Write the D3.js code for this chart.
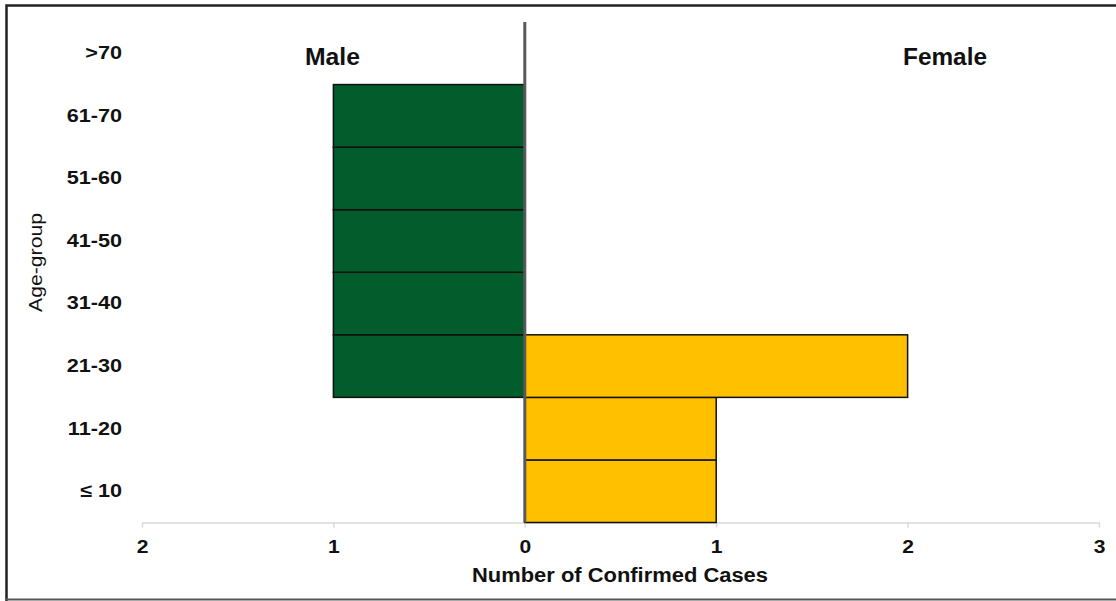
<!DOCTYPE html>
<html>
<head>
<meta charset="utf-8">
<script src="https://cdn.jsdelivr.net/npm/d3@7"></script>
<style>
  html, body { margin: 0; padding: 0; background: #fff; }
  svg { display: block; font-family: Arial, "Liberation Sans", sans-serif; }
</style>
</head>
<body>
<svg id="chart" width="1116" height="601"></svg>
<script>
// Age groups, bottom to top
const ageGroups = ["≤ 10", "11-20", "21-30", "31-40", "41-50", "51-60", "61-70", ">70"];
// Confirmed cases per age group
const maleCases   = [0, 0, 1, 1, 1, 1, 1, 0];
const femaleCases = [1, 1, 2, 0, 0, 0, 0, 0];
// Axis ticks (magnitudes shown on both sides of zero)
const xTicks = [-2, -1, 0, 1, 2, 3];

const svg = d3.select("#chart");
const W = 1116, H = 601;
const FONT = "Arial, 'Liberation Sans', sans-serif";
const WIDE = "scale(1.17,1)"; // slightly wide lettering

// Outer frame
svg.append("path")
  .attr("d", `M6.5,${H} L6.5,5.5 L${W},5.5`)
  .attr("fill", "none").attr("stroke", "#222").attr("stroke-width", 2.5);
svg.append("line")
  .attr("x1", 6).attr("x2", W).attr("y1", 599.5).attr("y2", 599.5)
  .attr("stroke", "#555").attr("stroke-width", 2);

const x = d3.scaleLinear().domain([-2, 3]).range([142, 1099]);
const y = d3.scaleBand().domain(ageGroups).range([522.5, 22]).padding(0);

// Bottom axis
const xAxis = d3.axisBottom(x)
  .tickValues(xTicks)
  .tickFormat(d => Math.abs(d))
  .tickSizeInner(5).tickSizeOuter(0);
const gx = svg.append("g").attr("transform", `translate(0,${y.range()[0]})`).call(xAxis);
gx.select(".domain").attr("stroke", "#d9d9d9").attr("stroke-width", 1.5);
gx.selectAll(".tick line").attr("stroke", "#d9d9d9").attr("stroke-width", 1.5);
gx.selectAll(".tick text")
  .attr("dy", 0).attr("y", 30.5)
  .attr("transform", WIDE)
  .attr("font-size", 18).attr("font-weight", "bold").attr("fill", "#111")
  .attr("font-family", FONT);

// Left category labels
const yAxis = d3.axisLeft(y).tickSize(0).tickPadding(0);
const gy = svg.append("g").attr("transform", "translate(122,0)").call(yAxis);
gy.select(".domain").remove();
gy.selectAll(".tick text")
  .attr("transform", WIDE)
  .attr("font-size", 18.5).attr("font-weight", "bold").attr("fill", "#111")
  .attr("font-family", FONT);

// Male bars (left of zero)
svg.append("g").selectAll("rect")
  .data(ageGroups.map((g, i) => ({ g, v: maleCases[i] })).filter(d => d.v > 0))
  .join("rect")
  .attr("x", d => x(-d.v))
  .attr("y", d => y(d.g))
  .attr("width", d => x(0) - x(-d.v))
  .attr("height", y.bandwidth())
  .attr("fill", "#035C2B")
  .attr("stroke", "#111").attr("stroke-width", 1.5);

// Female bars (right of zero)
svg.append("g").selectAll("rect")
  .data(ageGroups.map((g, i) => ({ g, v: femaleCases[i] })).filter(d => d.v > 0))
  .join("rect")
  .attr("x", x(0))
  .attr("y", d => y(d.g))
  .attr("width", d => x(d.v) - x(0))
  .attr("height", y.bandwidth())
  .attr("fill", "#FFC000")
  .attr("stroke", "#111").attr("stroke-width", 1.5);

// Zero line
svg.append("line")
  .attr("x1", x(0)).attr("x2", x(0))
  .attr("y1", y.range()[1]).attr("y2", y.range()[0])
  .attr("stroke", "#595959").attr("stroke-width", 3);

// Side labels
svg.append("text").attr("x", 332.5).attr("y", 65).attr("text-anchor", "middle")
  .attr("font-size", 23).attr("font-weight", "bold").attr("fill", "#111")
  .attr("textLength", 55).attr("lengthAdjust", "spacingAndGlyphs").text("Male");
svg.append("text").attr("x", 945).attr("y", 65).attr("text-anchor", "middle")
  .attr("font-size", 23).attr("font-weight", "bold").attr("fill", "#111")
  .attr("textLength", 84).attr("lengthAdjust", "spacingAndGlyphs").text("Female");

// Axis titles
svg.append("text").attr("x", 620).attr("y", 581.5).attr("text-anchor", "middle")
  .attr("font-size", 19.5).attr("font-weight", "bold").attr("fill", "#111")
  .attr("textLength", 296).attr("lengthAdjust", "spacingAndGlyphs")
  .text("Number of Confirmed  Cases");
svg.append("text")
  .attr("transform", "translate(42,262.5) rotate(-90)")
  .attr("text-anchor", "middle")
  .attr("font-size", 19).attr("fill", "#111")
  .attr("textLength", 99).attr("lengthAdjust", "spacingAndGlyphs")
  .text("Age-group");
</script>
</body>
</html>
